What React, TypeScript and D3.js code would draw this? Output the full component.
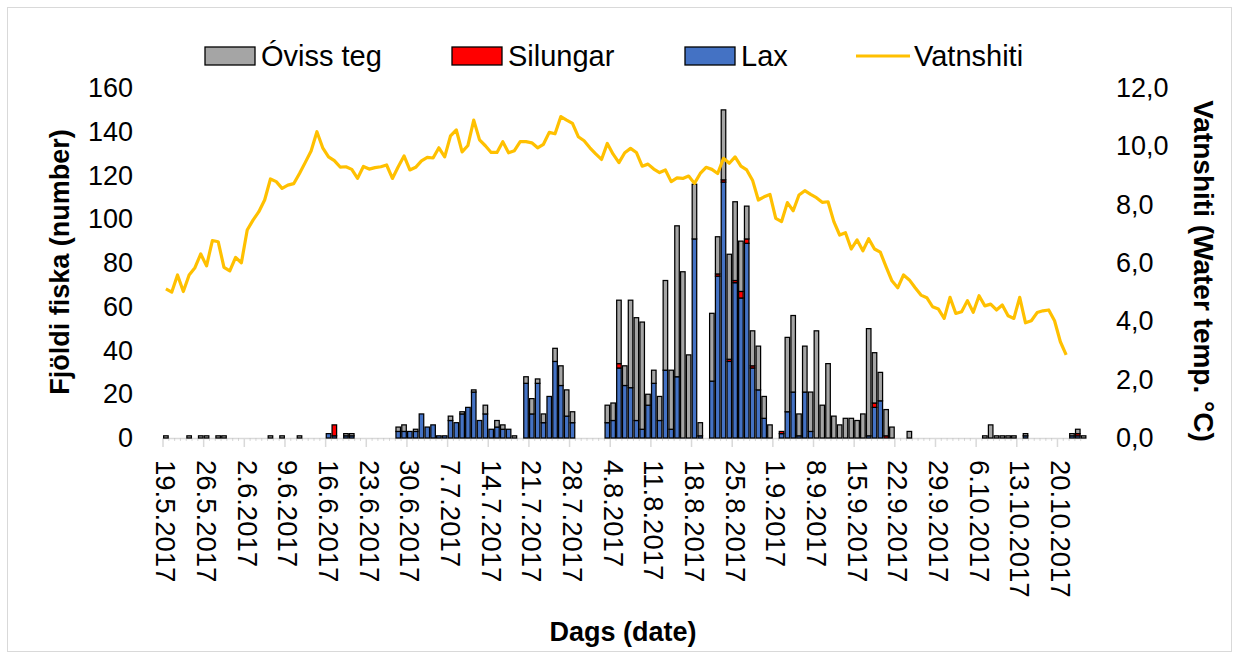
import React, { useEffect, useRef } from "react";
import * as d3 from "d3";

// daily counts, 19.5.2017 - 24.10.2017 (159 days)
const lax = [
  0, 0, 0, 0, 0, 0, 0, 0, 0, 0, 0, 0, 0, 0, 0, 0, 0, 0, 0, 0,
  0, 0, 0, 0, 0, 0, 0, 0, 2, 1, 0, 1, 1, 0, 0, 0, 0, 0, 0, 0,
  3, 3, 3, 3, 11, 5, 6, 1, 1, 8, 7, 11, 14, 21, 8, 11, 4, 5, 4, 4,
  0, 0, 25, 11, 25, 7, 19, 35, 24, 10, 7, 0, 0, 0, 0, 0, 7, 8, 32, 24,
  23, 8, 4, 15, 25, 8, 31, 4, 28, 0, 0, 91, 1, 0, 26, 74, 117, 35, 71, 64,
  89, 32, 22, 9, 0, 0, 2, 12, 21, 1, 21, 3, 0, 0, 0, 0, 0, 0, 0, 0,
  0, 1, 14, 17, 0, 0, 0, 0, 0, 0, 0, 0, 0, 0, 0, 0, 0, 0, 0, 0,
  0, 0, 0, 0, 0, 0, 0, 0, 1, 0, 0, 0, 0, 0, 0, 0, 1, 1, 0,
];
const silungar = [
  0, 0, 0, 0, 0, 0, 0, 0, 0, 0, 0, 0, 0, 0, 0, 0, 0, 0, 0, 0,
  0, 0, 0, 0, 0, 0, 0, 0, 0, 5, 0, 0, 0, 0, 0, 0, 0, 0, 0, 0,
  0, 0, 0, 0, 0, 0, 0, 0, 0, 0, 0, 0, 0, 0, 0, 0, 0, 0, 0, 0,
  0, 0, 0, 0, 0, 0, 0, 0, 0, 0, 0, 0, 0, 0, 0, 0, 0, 0, 2, 0,
  0, 0, 0, 0, 0, 0, 0, 0, 0, 0, 0, 0, 0, 0, 0, 1, 1, 1, 1, 3,
  2, 1, 0, 0, 0, 0, 1, 0, 0, 0, 0, 0, 0, 0, 0, 0, 0, 0, 0, 0,
  0, 0, 2, 0, 1, 0, 0, 0, 0, 0, 0, 0, 0, 0, 0, 0, 0, 0, 0, 0,
  0, 0, 0, 0, 0, 0, 0, 0, 0, 0, 0, 0, 0, 0, 0, 0, 0, 1, 0,
];
const ovissTeg = [
  1, 0, 0, 0, 1, 0, 1, 1, 0, 1, 1, 0, 0, 0, 0, 0, 0, 0, 1, 0,
  1, 0, 0, 1, 0, 0, 0, 0, 0, 0, 0, 1, 1, 0, 0, 0, 0, 0, 0, 0,
  2, 3, 0, 1, 0, 0, 0, 0, 0, 2, 0, 1, 0, 1, 0, 4, 0, 3, 2, 0,
  1, 0, 3, 7, 2, 4, 0, 6, 9, 12, 5, 0, 0, 0, 0, 0, 8, 8, 29, 9,
  40, 47, 49, 5, 6, 11, 41, 27, 69, 76, 38, 25, 6, 0, 31, 17, 32, 48, 36, 23,
  15, 16, 20, 10, 6, 0, 0, 34, 35, 10, 21, 18, 49, 15, 34, 10, 6, 9, 9, 8,
  11, 49, 23, 13, 12, 5, 0, 0, 3, 0, 0, 0, 0, 0, 0, 0, 0, 0, 0, 0,
  0, 1, 6, 1, 1, 1, 1, 0, 1, 0, 0, 0, 0, 0, 0, 0, 1, 2, 1,
];
// water temperature, 19.5 - 21.10
const vatnshiti = [
  5.11, 5.0, 5.59, 5.02, 5.59, 5.84, 6.31, 5.9, 6.77, 6.73, 5.85, 5.73, 6.19, 6.01, 7.13, 7.47,
  7.76, 8.16, 8.88, 8.79, 8.56, 8.67, 8.72, 9.07, 9.45, 9.84, 10.5, 9.95, 9.64, 9.51, 9.29, 9.3,
  9.21, 8.9, 9.31, 9.22, 9.27, 9.3, 9.36, 8.9, 9.3, 9.67, 9.19, 9.28, 9.5, 9.62, 9.6, 9.95,
  9.64, 10.36, 10.56, 9.81, 10.03, 10.9, 10.22, 10.02, 9.79, 9.79, 10.16, 9.78, 9.85, 10.16, 10.16, 10.12,
  9.95, 10.07, 10.48, 10.43, 11.02, 10.9, 10.79, 10.33, 10.19, 9.95, 9.74, 9.55, 10.1, 9.73, 9.44, 9.78,
  9.93, 9.79, 9.32, 9.39, 9.22, 9.1, 9.19, 8.79, 8.92, 8.9, 8.98, 8.73, 9.07, 9.28, 9.21, 9.07,
  9.59, 9.42, 9.64, 9.32, 9.19, 8.84, 8.16, 8.27, 8.35, 7.53, 7.42, 8.07, 7.79, 8.33, 8.48, 8.35,
  8.24, 8.08, 8.1, 7.42, 6.96, 7.04, 6.48, 6.79, 6.42, 6.83, 6.48, 6.37, 5.87, 5.39, 5.15, 5.59,
  5.42, 5.15, 4.9, 4.81, 4.5, 4.42, 4.1, 4.82, 4.27, 4.33, 4.71, 4.31, 4.88, 4.53, 4.59, 4.39,
  4.56, 4.19, 4.1, 4.82, 3.95, 4.02, 4.3, 4.36, 4.39, 4.02, 3.3, 2.85,
];
const leftTicks = [0, 20, 40, 60, 80, 100, 120, 140, 160];
const rightTicks = [0, 2, 4, 6, 8, 10, 12];

const seriesKeys = ["lax", "silungar", "oviss"];
const seriesColor: Record<string, string> = { lax: "#4472C4", silungar: "#FF0000", oviss: "#A5A5A5" };
const legendItems = [
  { label: "Óviss teg", color: "#A5A5A5", type: "box", x: 205 },
  { label: "Silungar", color: "#FF0000", type: "box", x: 452 },
  { label: "Lax", color: "#4472C4", type: "box", x: 685 },
  { label: "Vatnshiti", color: "#FFC000", type: "line", x: 856 },
];

const FONT = "'Liberation Sans', Arial, sans-serif";

export default function App() {
  const ref = useRef<SVGSVGElement>(null);

  useEffect(() => {
    drawChart();
  }, []);

  function drawChart() {
    const svg = d3.select(ref.current);
    svg.selectAll("*").remove();

    const left = 163, right = 1086.5, top = 88, bottom = 438;
    const days = d3.timeDay.range(new Date(2017, 4, 19), new Date(2017, 9, 25));
    const fmt = d3.timeFormat("%-d.%-m.%Y");

    const x = d3.scaleBand<number>().domain(d3.range(days.length)).range([left, right]).paddingInner(0.22).paddingOuter(0.11);
    const step = x.step();
    const y = d3.scaleLinear().domain([0, 160]).range([bottom, top]);
    const y2 = d3.scaleLinear().domain([0, 12]).range([bottom, top]);

    // chart border
    svg.append("rect").attr("x", 7.5).attr("y", 7.5).attr("width", 1224).attr("height", 644)
      .attr("fill", "white").attr("stroke", "#d9d9d9");

    // x axis line + ticks
    svg.append("line").attr("x1", left).attr("x2", right).attr("y1", bottom + 0.5).attr("y2", bottom + 0.5)
      .attr("stroke", "#d9d9d9").attr("stroke-width", 1.5);
    days.forEach((d, i) => {
      const tx = left + i * step;
      const major = i % 7 === 0;
      svg.append("line").attr("x1", tx).attr("x2", tx).attr("y1", bottom).attr("y2", bottom + (major ? 9 : 3))
        .attr("stroke", major ? "#d9d9d9" : "#bfbfbf").attr("stroke-width", major ? 1.5 : 0.6);
      if (major) {
        const cx = (x(i) as number) + x.bandwidth() / 2;
        svg.append("text").attr("transform", `translate(${cx},460) rotate(90)`)
          .attr("dominant-baseline", "central").attr("font-family", FONT).attr("font-size", 27.5)
          .attr("fill", "#000").text(fmt(d));
      }
    });

    // left axis labels
    leftTicks.forEach((t) => {
      svg.append("text").attr("x", 133).attr("y", y(t)).attr("text-anchor", "end")
        .attr("dominant-baseline", "central").attr("font-family", FONT).attr("font-size", 27).text(t);
    });
    // right axis labels
    rightTicks.forEach((t) => {
      svg.append("text").attr("x", 1116).attr("y", y2(t)).attr("text-anchor", "start")
        .attr("dominant-baseline", "central").attr("font-family", FONT).attr("font-size", 27)
        .text(t.toFixed(1).replace(".", ","));
    });

    // stacked bars
    const rows = days.map((d, i) => ({ i, lax: lax[i], silungar: silungar[i], oviss: ovissTeg[i] }));
    const stacked = d3.stack<any>().keys(seriesKeys)(rows);
    stacked.forEach((layer) => {
      svg.append("g").selectAll("rect").data(layer.filter((s) => s[1] - s[0] > 0)).join("rect")
        .attr("x", (s: any) => x(s.data.i) as number)
        .attr("width", x.bandwidth())
        .attr("y", (s) => y(s[1]))
        .attr("height", (s) => y(s[0]) - y(s[1]))
        .attr("fill", seriesColor[layer.key])
        .attr("stroke", "#000").attr("stroke-width", 1.25);
    });

    // temperature line
    const line = d3.line<number>()
      .x((_, i) => (x(i) as number) + x.bandwidth() / 2)
      .y((v) => y2(v));
    svg.append("path").datum(vatnshiti).attr("d", line).attr("fill", "none")
      .attr("stroke", "#FFC000").attr("stroke-width", 3.2).attr("stroke-linejoin", "round");

    // axis titles
    svg.append("text").attr("transform", "translate(60,262) rotate(-90)").attr("text-anchor", "middle")
      .attr("dominant-baseline", "central").attr("font-family", FONT).attr("font-weight", "bold")
      .attr("font-size", 27).text("Fjöldi fiska (number)");
    svg.append("text").attr("transform", "translate(1203,271) rotate(90)").attr("text-anchor", "middle")
      .attr("dominant-baseline", "central").attr("font-family", FONT).attr("font-weight", "bold")
      .attr("font-size", 28).text("Vatnshiti (Water temp. °C)");
    svg.append("text").attr("x", 623).attr("y", 632).attr("text-anchor", "middle")
      .attr("dominant-baseline", "central").attr("font-family", FONT).attr("font-weight", "bold")
      .attr("font-size", 27).text("Dags (date)");

    // legend
    legendItems.forEach((it) => {
      if (it.type === "box") {
        svg.append("rect").attr("x", it.x).attr("y", 47).attr("width", 50).attr("height", 18)
          .attr("fill", it.color).attr("stroke", "#000").attr("stroke-width", 1.3);
        svg.append("text").attr("x", it.x + 56).attr("y", 56).attr("dominant-baseline", "central")
          .attr("font-family", FONT).attr("font-size", 29).text(it.label);
      } else {
        svg.append("line").attr("x1", it.x).attr("x2", it.x + 54).attr("y1", 56).attr("y2", 56)
          .attr("stroke", it.color).attr("stroke-width", 3.2);
        svg.append("text").attr("x", it.x + 58).attr("y", 56).attr("dominant-baseline", "central")
          .attr("font-family", FONT).attr("font-size", 29).text(it.label);
      }
    });
  }

  return (
    <svg ref={ref} width={1239} height={659}
      style={{ position: "absolute", left: 0, top: 0, display: "block", background: "white" }} />
  );
}
